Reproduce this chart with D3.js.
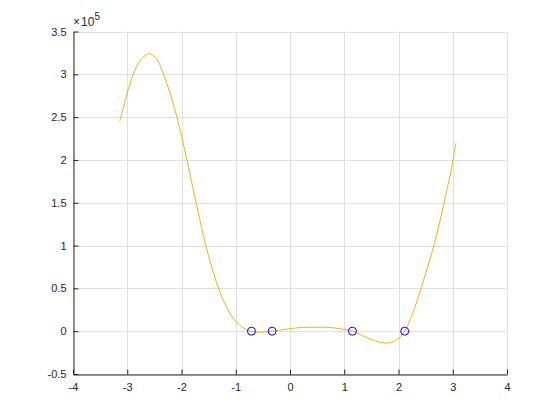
<!DOCTYPE html>
<html>
<head>
  <meta charset="UTF-8">
  <script src="https://cdn.jsdelivr.net/npm/d3@7"></script>
  <style>
    body { margin: 0; background: #fff; }
    text { font-family: "Liberation Sans", Arial, sans-serif; fill: #262626; }
  </style>
</head>
<body>
<svg width="560" height="420"></svg>
<script>
  // curve samples (y in units of 1e5)
  var curveX = [-3.14, -3.0, -2.89, -2.75, -2.59, -2.45, -2.33, -2.21, -2.085, -2.0, -1.91, -1.745, -1.543,
                -1.40, -1.30, -1.16, -1.006, -0.85, -0.711, -0.57, -0.33, -0.1, 0.19, 0.5, 0.745, 1.0, 1.15,
                1.4, 1.6, 1.78, 1.9, 2.0, 2.114, 2.2, 2.28, 2.43, 2.66, 2.83, 3.0, 3.058];
  var curveY = [2.45, 2.78, 3.0, 3.17, 3.24, 3.17, 3.0, 2.78, 2.50, 2.28, 2.03, 1.54, 0.98,
                0.66, 0.47, 0.27, 0.12, 0.035, 0, -0.012, 0, 0.02, 0.043, 0.047, 0.043, 0.02, 0,
                -0.07, -0.12, -0.14, -0.125, -0.085, 0, 0.11, 0.24, 0.53, 1.02, 1.47, 1.98, 2.2];

  var rootsX = [-0.711, -0.33, 1.15, 2.114];
  var rootsY = [0, 0, 0, 0];

  var xTicks = [-4, -3, -2, -1, 0, 1, 2, 3, 4];
  var yTicks = [-0.5, 0, 0.5, 1, 1.5, 2, 2.5, 3, 3.5];

  var plotLeft = 73, plotRight = 507, plotTop = 31.5, plotBottom = 374;

  var svg = d3.select("svg");

  var x = d3.scaleLinear().domain([-4, 4]).range([plotLeft, plotRight]);
  var y = d3.scaleLinear().domain([-0.5, 3.5]).range([plotBottom, plotTop]);

  // grid
  svg.append("g").selectAll("line").data(xTicks).enter()
      .append("line")
      .attr("x1", function(d) { return Math.round(x(d)) + 0.5; })
      .attr("x2", function(d) { return Math.round(x(d)) + 0.5; })
      .attr("y1", plotTop).attr("y2", plotBottom)
      .attr("stroke", "#dfdfdf").attr("stroke-width", 1);

  svg.append("g").selectAll("line").data(yTicks).enter()
      .append("line")
      .attr("y1", function(d) { return Math.round(y(d)) + 0.5; })
      .attr("y2", function(d) { return Math.round(y(d)) + 0.5; })
      .attr("x1", plotLeft).attr("x2", plotRight)
      .attr("stroke", "#dfdfdf").attr("stroke-width", 1);

  // curve
  var points = curveX.map(function(d, i) { return [d, curveY[i]]; });
  var line = d3.line()
      .x(function(d) { return x(d[0]); })
      .y(function(d) { return y(d[1]); })
      .curve(d3.curveCatmullRom.alpha(0.5));

  svg.append("path")
      .datum(points)
      .attr("fill", "none")
      .attr("stroke", "#EDB120")
      .attr("stroke-width", 1)
      .attr("d", line);

  // roots
  svg.append("g").selectAll("circle").data(rootsX).enter()
      .append("circle")
      .attr("cx", function(d) { return x(d); })
      .attr("cy", function(d, i) { return y(rootsY[i]); })
      .attr("r", 4)
      .attr("fill", "none")
      .attr("stroke", "#0000ff")
      .attr("stroke-width", 1);

  // axes
  var xAxis = d3.axisBottom(x).tickValues(xTicks).tickSizeInner(-5).tickSizeOuter(0).tickPadding(9)
      .tickFormat(function(d) { return String(d); });
  var yAxis = d3.axisLeft(y).tickValues(yTicks).tickSizeInner(-5).tickSizeOuter(0).tickPadding(7)
      .tickFormat(function(d) { return String(d); });

  var gx = svg.append("g").attr("transform", "translate(0," + (Math.round(plotBottom) + 0.5) + ")").call(xAxis);
  var gy = svg.append("g").attr("transform", "translate(" + (Math.round(plotLeft) + 0.5) + ",0)").call(yAxis);

  [gx, gy].forEach(function(g) {
    g.select(".domain").attr("stroke", "#262626");
    g.selectAll(".tick line").attr("stroke", "#262626");
    g.selectAll(".tick text")
        .attr("font-family", "Liberation Sans, Arial, sans-serif")
        .attr("font-size", 11)
        .attr("fill", "#262626");
  });

  // exponent label
  var expo = svg.append("text")
      .attr("x", plotLeft)
      .attr("y", 26)
      .attr("font-size", 12);
  expo.append("tspan").text("\u00d7");
  expo.append("tspan").attr("dx", 1).text("10");
  expo.append("tspan").attr("dy", -6).attr("font-size", 10).text("5");
</script>
</body>
</html>
